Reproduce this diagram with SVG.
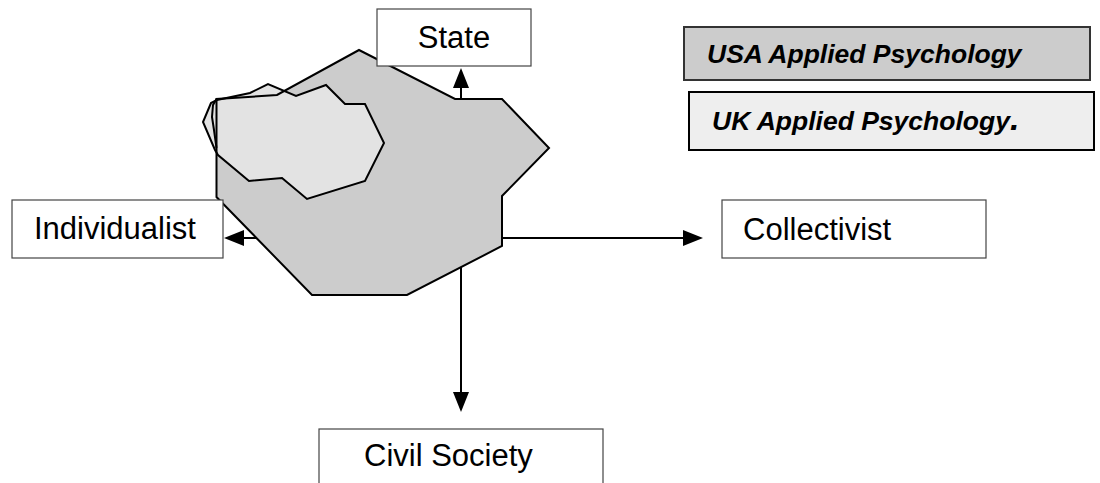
<svg xmlns="http://www.w3.org/2000/svg" width="1100" height="483" viewBox="0 0 1100 483">
<style>
.box{fill:#fff;stroke:#444;stroke-width:1.2}
.lbl{font-family:"Liberation Sans",Arial,sans-serif;font-size:31px;fill:#000}
.leg{font-family:"Liberation Sans",Arial,sans-serif;font-size:26.5px;font-weight:bold;font-style:italic;fill:#000}
.ax{stroke:#000;stroke-width:2;fill:none}
.head{fill:#000}
.shp{stroke:#000;stroke-width:2;stroke-linejoin:miter}
</style>
<rect width="1100" height="483" fill="#fff"/>
<g id="connectors">
  <line class="ax" x1="461" y1="86" x2="461" y2="394"/>
  <line class="ax" x1="243" y1="238" x2="684" y2="238"/>
  <polygon class="head" points="461,68 453,88 469,88"/>
  <polygon class="head" points="461,412 453,392 469,392"/>
  <polygon class="head" points="224,238 244,230 244,246"/>
  <polygon class="head" points="703,238 683,230 683,246"/>
</g>
<g id="usa-region">
  <polygon fill="#cccccc" stroke="none" points="359,50 455,99 502,99 549,148 502,196 502,246 407,295 312,295 216.5,197 216.5,99 277,95"/>
</g>
<g id="uk-region">
  <polygon class="shp" fill="#e3e3e3" points="211,103 203,122 215,150 218,155 249,181 282,178 307,199 365,181 384,143 365,104 345,104 326,85 296,96 268,84 250,93 217,100"/>
  <polyline class="shp" fill="none" points="216.5,99 213,105 212,117 214,130 216.5,148"/>
</g>
<g id="usa-outline">
  <polygon class="shp" fill="none" points="359,50 455,99 502,99 549,148 502,196 502,246 407,295 312,295 216.5,197 216.5,99 277,95"/>
</g>
<g id="state">
  <rect class="box" x="377" y="9" width="154" height="57"/>
  <text class="lbl" x="454" y="48" text-anchor="middle">State</text>
</g>
<g id="individualist">
  <rect class="box" x="12" y="200" width="211" height="58"/>
  <text class="lbl" x="115" y="239" text-anchor="middle">Individualist</text>
</g>
<g id="collectivist">
  <rect class="box" x="722" y="200" width="264" height="58"/>
  <text class="lbl" x="743" y="240">Collectivist</text>
</g>
<g id="civil-society">
  <rect class="box" x="319" y="429" width="284" height="60"/>
  <text class="lbl" x="364" y="466">Civil Society</text>
</g>
<g id="legend-usa">
  <rect x="684" y="27" width="406" height="53" fill="#cccccc" stroke="#333" stroke-width="2"/>
  <text class="leg" x="707" y="63">USA Applied Psychology</text>
</g>
<g id="legend-uk">
  <rect x="689" y="92" width="405" height="58" fill="#eeeeee" stroke="#000" stroke-width="2"/>
  <text class="leg" x="712" y="130">UK Applied Psychology<tspan font-size="34px">.</tspan></text>
</g>
</svg>
